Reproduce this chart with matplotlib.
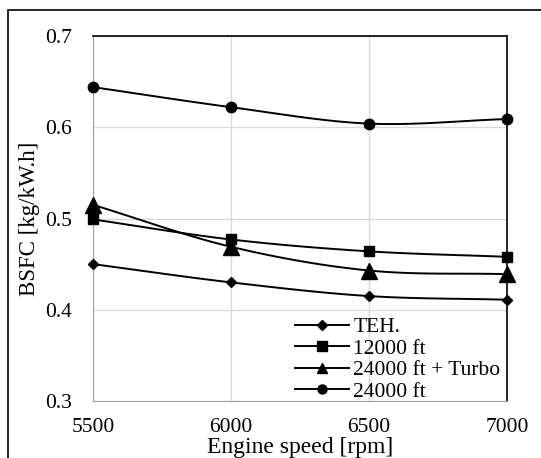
import numpy as np
import matplotlib.pyplot as plt
from matplotlib.patches import Rectangle

plt.rcParams['font.family'] = ['Liberation Serif', 'DejaVu Serif']

# ------ data ------
speed = [5500, 6000, 6500, 7000]
teh = [0.450, 0.430, 0.415, 0.411]
ft12000 = [0.499, 0.477, 0.464, 0.458]
ft24000_turbo = [0.515, 0.469, 0.443, 0.439]
ft24000 = [0.644, 0.622, 0.604, 0.609]
labels = ['TEH.', '12000 ft', '24000 ft + Turbo', '24000 ft']


# ------ smooth line like a spreadsheet chart (catmull-rom) ------
def smooth(x, y, n=30):
    x = np.asarray(x, float)
    y = np.asarray(y, float)
    px = np.concatenate([[2 * x[0] - x[1]], x, [2 * x[-1] - x[-2]]])
    py = np.concatenate([[2 * y[0] - y[1]], y, [2 * y[-1] - y[-2]]])
    xs, ys = [], []
    t = np.linspace(0, 1, n)
    for i in range(1, len(px) - 2):
        for p, out in ((px, xs), (py, ys)):
            p0, p1, p2, p3 = p[i - 1], p[i], p[i + 1], p[i + 2]
            out.extend(0.5 * (2 * p1 + (-p0 + p2) * t
                              + (2 * p0 - 5 * p1 + 4 * p2 - p3) * t ** 2
                              + (-p0 + 3 * p1 - 3 * p2 + p3) * t ** 3))
    return xs, ys


fig = plt.figure(figsize=(5.41, 4.58), dpi=100)
fig.patches.append(Rectangle((8 / 541, -0.1), 1.2, 1 - 10 / 458 + 0.1,
                             transform=fig.transFigure, fill=False,
                             edgecolor='black', linewidth=1.2))
ax = fig.add_axes([93 / 541, 1 - 401 / 458, (507 - 93) / 541, (401 - 36) / 458])

series = [teh, ft12000, ft24000_turbo, ft24000]
markers = ['D', 's', '^', 'o']
msizes = [5.5, 7.5, 11, 7.5]
leg_sizes = [5, 6.5, 7, 6.5]
handles = []
for vals, m, ms, lms, lab in zip(series, markers, msizes, leg_sizes, labels):
    sx, sy = smooth(speed, vals)
    ax.plot(sx, sy, color='black', lw=1.4, zorder=3)
    ax.plot(speed, vals, ls='none', marker=m, ms=ms, color='black', zorder=4, clip_on=False)
    h, = ax.plot([], [], color='black', lw=1.4, marker=m, ms=lms, label=lab)
    handles.append(h)

ax.set_xlim(5500, 7000)
ax.set_ylim(0.3, 0.7)
ax.set_xticks(speed)
ax.set_yticks([0.3, 0.4, 0.5, 0.6, 0.7])
ax.grid(True, color='#d9d9d9', lw=1)
ax.set_axisbelow(True)
ax.tick_params(length=0, labelsize=15.5)
ax.tick_params(axis='x', pad=12)
ax.tick_params(axis='y', pad=15)
for s in ('left', 'bottom'):
    ax.spines[s].set_color('#a0a0a0')
for s in ('top', 'right'):
    ax.spines[s].set_color('black')
    ax.spines[s].set_linewidth(1.2)

ax.set_xlabel('Engine speed [rpm]', fontsize=17, labelpad=0)
ax.set_ylabel('BSFC [kg/kW.h]', fontsize=16.5, labelpad=4)

ax.legend(handles=handles, loc='lower right', bbox_to_anchor=(1.0, -0.02),
          frameon=False, fontsize=15.5, handlelength=2.5, handletextpad=0.2,
          labelspacing=0.07, borderaxespad=0.2, borderpad=0.1)

fig.savefig('out.png', dpi=100)
